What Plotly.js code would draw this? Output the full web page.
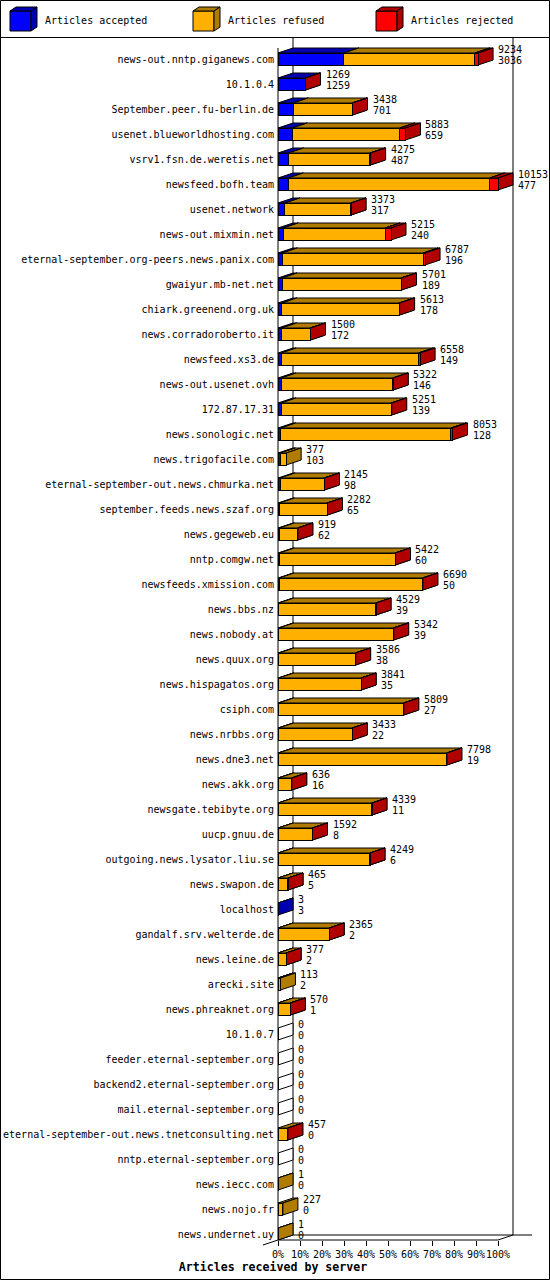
<!DOCTYPE html>
<html>
<head>
<meta charset="utf-8">
<script src="https://cdn.plot.ly/plotly-3.0.1.min.js"></script>
<style>
  html, body { margin: 0; padding: 0; background: #fff; }
  #plot { width: 550px; height: 1280px; }
</style>
</head>
<body>
<div id="plot"></div>
<script>
const servers = [
    'news-out.nntp.giganews.com', '10.1.0.4', 'September.peer.fu-berlin.de',
    'usenet.blueworldhosting.com', 'vsrv1.fsn.de.weretis.net', 'newsfeed.bofh.team',
    'usenet.network', 'news-out.mixmin.net', 'eternal-september.org-peers.news.panix.com',
    'gwaiyur.mb-net.net', 'chiark.greenend.org.uk', 'news.corradoroberto.it',
    'newsfeed.xs3.de', 'news-out.usenet.ovh', '172.87.17.31', 'news.sonologic.net',
    'news.trigofacile.com', 'eternal-september-out.news.chmurka.net',
    'september.feeds.news.szaf.org', 'news.gegeweb.eu', 'nntp.comgw.net',
    'newsfeeds.xmission.com', 'news.bbs.nz', 'news.nobody.at', 'news.quux.org',
    'news.hispagatos.org', 'csiph.com', 'news.nrbbs.org', 'news.dne3.net', 'news.akk.org',
    'newsgate.tebibyte.org', 'uucp.gnuu.de', 'outgoing.news.lysator.liu.se',
    'news.swapon.de', 'localhost', 'gandalf.srv.welterde.de', 'news.leine.de',
    'arecki.site', 'news.phreaknet.org', '10.1.0.7', 'feeder.eternal-september.org',
    'backend2.eternal-september.org', 'mail.eternal-september.org',
    'eternal-september-out.news.tnetconsulting.net', 'nntp.eternal-september.org',
    'news.iecc.com', 'news.nojo.fr', 'news.undernet.uy'
];
const accepted = [
    3036, 1259, 701, 659, 487, 477, 317, 240, 196, 189, 178, 172, 149, 146, 139, 128,
    103, 98, 65, 62, 60, 50, 39, 39, 38, 35, 27, 22, 19, 16, 11, 8, 6, 5, 3, 2, 2, 2, 1,
    0, 0, 0, 0, 0, 0, 0, 0, 0
];
const refused = [
    6048, 0, 2717, 4964, 3758, 9291, 3041, 4700, 6501, 5492, 5415, 1318, 6334, 5146, 5087, 7855,
    274, 2032, 2202, 847, 5342, 6620, 4475, 5288, 3538, 3796, 5767, 3401, 7759, 615, 4318, 1579,
    4233, 455, 0, 2358, 370, 111, 564, 0, 0, 0, 0, 447, 0, 1, 227, 1
];
const rejected = [
    150, 10, 20, 260, 30, 385, 15, 275, 90, 20, 20, 10, 75, 30, 25, 70,
    0, 15, 15, 10, 20, 20, 15, 15, 10, 10, 15, 10, 20, 5, 10, 5,
    10, 5, 0, 5, 5, 0, 5, 0, 0, 0, 0, 10, 0, 0, 0, 0
];
const seriesNames = ['Articles accepted', 'Articles refused', 'Articles rejected'];
const tickPercents = [0, 10, 20, 30, 40, 50, 60, 70, 80, 90, 100];

const FONT = 'DejaVu Sans Mono, monospace';
const FRONT = ['#0000ff', '#ffb000', '#ff0000'];
const SHADE = ['#0000b0', '#b07c00', '#b00000'];

// plot box in page pixels
const box = { l: 278, r: 548, t: 40, b: 1240 };
const PX_PER_PCT = 2.2;
const ROW_PX = 25;
const FIRST_ROW_PX = 59;
const DEPTH_X = 15, DEPTH_Y = 5;
const BAR_W = 0.48;

const xMax = (box.r - box.l) / PX_PER_PCT;
const yMin = -(FIRST_ROW_PX - box.t) / ROW_PX;
const yMax = yMin + (box.b - box.t) / ROW_PX;
const dx = DEPTH_X / PX_PER_PCT;
const dy = DEPTH_Y / ROW_PX;

const segs = [accepted, refused, rejected];
const totals = servers.map((_, i) => accepted[i] + refused[i] + rejected[i]);
const maxTotal = Math.max(...totals);
const pct = v => v / maxTotal * 100;

// page pixel -> paper fraction
const fx = px => (px - box.l) / (box.r - box.l);
const fy = py => (box.b - py) / (box.b - box.t);

const paperLine = (x0, y0, x1, y1, layer) => ({
    type: 'line', xref: 'paper', yref: 'paper', layer: layer || 'below',
    x0: fx(x0), y0: fy(y0), x1: fx(x1), y1: fy(y1),
    line: { color: '#000', width: 1 }
});
const paperPath = (pts, fill) => ({
    type: 'path', xref: 'paper', yref: 'paper', layer: 'above',
    path: 'M' + pts.map(p => fx(p[0]) + ',' + fy(p[1])).join('L') + 'Z',
    fillcolor: fill, line: { color: '#000', width: 1 }
});
const dataPath = (pts, fill) => ({
    type: 'path', xref: 'x', yref: 'y', layer: 'below',
    path: 'M' + pts.map(p => p[0] + ',' + p[1]).join('L') + 'Z',
    fillcolor: fill, line: { color: '#000', width: 1 }
});

const shapes = [
    paperLine(0, 37.5, 550, 37.5, 'above'),
    paperLine(293, 37.5, 293, 1235),
    paperLine(513, 37.5, 513, 1235),
    paperLine(278, 48, 278, 1240),
    paperLine(278, 1240, 498, 1240),
    paperLine(498, 1240, 513, 1235),
    paperLine(293, 1235, 532, 1235),
    paperLine(263, 1245, 293, 1235),
    {
        type: 'rect', xref: 'paper', yref: 'paper', layer: 'above',
        x0: fx(0.5), y0: fy(0.5), x1: fx(549.5), y1: fy(1279.5),
        line: { color: '#000', width: 1 }
    }
];

// 3d top and side faces of each stacked segment
servers.forEach((_, i) => {
    const top = i - BAR_W / 2, bot = i + BAR_W / 2;
    if (totals[i] === 0) {
        shapes.push(dataPath([[0, top], [dx, top - dy], [dx, bot - dy], [0, bot]], '#fff'));
    }
    let start = 0;
    segs.forEach((vals, k) => {
        if (!vals[i]) return;
        const x0 = pct(start), x1 = pct(start + vals[i]);
        shapes.push(dataPath([[x0, top], [x1, top], [x1 + dx, top - dy], [x0 + dx, top - dy]], SHADE[k]));
        shapes.push(dataPath([[x1, top], [x1 + dx, top - dy], [x1 + dx, bot - dy], [x1, bot]], SHADE[k]));
        start += vals[i];
    });
});

// legend cubes
const annotations = [];
[10, 193, 376].forEach((x0, k) => {
    shapes.push(paperPath([[x0, 11], [x0 + 21, 11], [x0 + 21, 31], [x0, 31]], FRONT[k]));
    shapes.push(paperPath([[x0, 11], [x0 + 6, 7], [x0 + 27, 7], [x0 + 21, 11]], SHADE[k]));
    shapes.push(paperPath([[x0 + 21, 11], [x0 + 27, 7], [x0 + 27, 27], [x0 + 21, 31]], SHADE[k]));
    annotations.push({
        xref: 'paper', yref: 'paper', x: fx(x0 + 33), y: fy(21),
        xanchor: 'left', yanchor: 'middle', showarrow: false,
        text: seriesNames[k], font: { family: FONT, size: 10, color: '#000' }
    });
});

// total / accepted labels
servers.forEach((_, i) => {
    const base = {
        xref: 'x', yref: 'y', x: pct(totals[i]), y: i, xanchor: 'left', yanchor: 'middle',
        xshift: DEPTH_X + 3, showarrow: false, font: { family: FONT, size: 10, color: '#000' }
    };
    annotations.push(Object.assign({}, base, { text: String(totals[i]), yshift: 10 }));
    annotations.push(Object.assign({}, base, { text: String(accepted[i]), yshift: -1.5 }));
});

const traces = segs.map((vals, k) => ({
    type: 'bar',
    orientation: 'h',
    name: seriesNames[k],
    x: vals.map(pct),
    y: servers.map((_, i) => i),
    width: BAR_W,
    marker: { color: FRONT[k], line: { color: '#000', width: 1 } },
    showlegend: false,
    hoverinfo: 'skip'
}));

const layout = {
    width: 550,
    height: 1280,
    margin: { l: box.l, r: 550 - box.r, t: box.t, b: 1280 - box.b, pad: 0 },
    paper_bgcolor: '#fff',
    plot_bgcolor: 'rgba(0,0,0,0)',
    barmode: 'stack',
    showlegend: false,
    font: { family: FONT, size: 10, color: '#000' },
    title: {
        text: 'Articles received by server',
        xref: 'container', yref: 'container',
        x: 273 / 550, xanchor: 'center',
        y: 1 - 1267 / 1280, yanchor: 'middle',
        font: { family: FONT, size: 11.6, color: '#000', weight: 'bold' }
    },
    xaxis: {
        range: [0, xMax],
        tickvals: tickPercents,
        ticktext: tickPercents.map(v => v + '%'),
        tickangle: 0,
        ticks: 'outside', ticklen: 5, tickwidth: 1, tickcolor: '#000',
        showgrid: false, zeroline: false, showline: false,
        tickfont: { family: FONT, size: 10, color: '#000' },
        automargin: false, fixedrange: true
    },
    yaxis: {
        range: [yMax, yMin],
        tickvals: servers.map((_, i) => i),
        ticktext: servers,
        ticks: '',
        ticklabelstandoff: 3,
        showgrid: false, zeroline: false, showline: false,
        tickfont: { family: FONT, size: 10, color: '#000' },
        automargin: false, fixedrange: true
    },
    shapes: shapes,
    annotations: annotations
};

Plotly.newPlot('plot', traces, layout, { displayModeBar: false, staticPlot: true });
</script>
</body>
</html>
